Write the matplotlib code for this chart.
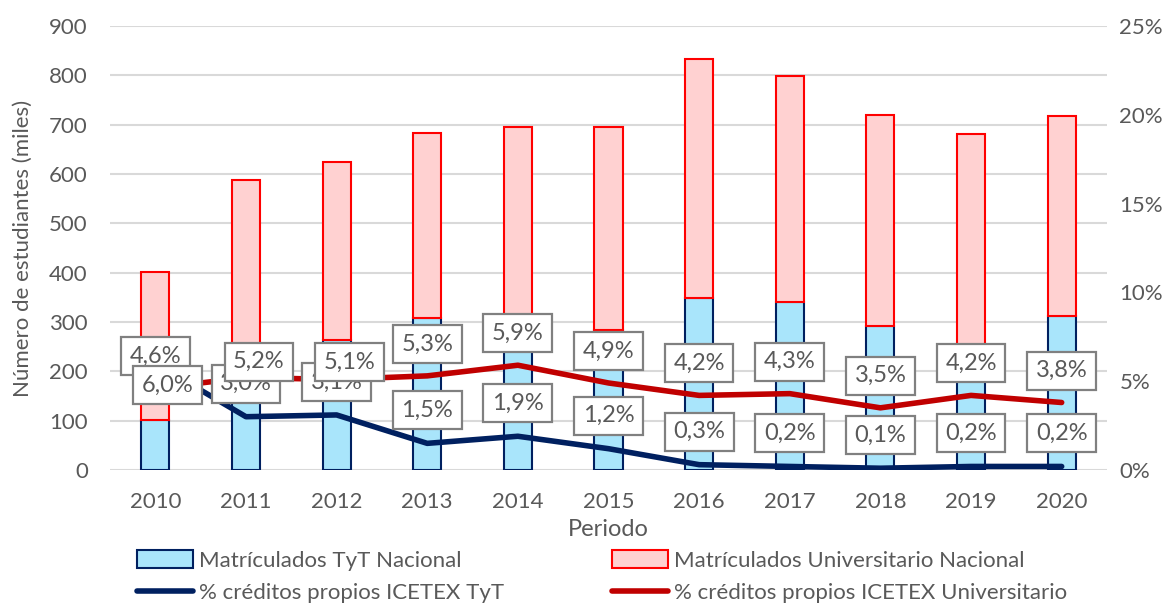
import matplotlib
matplotlib.use("Agg")
import matplotlib.pyplot as plt
from matplotlib.patches import Patch
from matplotlib.lines import Line2D
import numpy as np

plt.rcParams['font.family'] = ['Lato', 'DejaVu Sans']

years = ['2010', '2011', '2012', '2013', '2014', '2015', '2016', '2017', '2018', '2019', '2020']
tyt_students = [102, 250, 264, 308, 300, 284, 349, 340, 292, 250, 313]
uni_students = [299, 338, 361, 376, 395, 412, 485, 458, 428, 432, 405]
pct_tyt = [6.0, 3.0, 3.1, 1.5, 1.9, 1.2, 0.3, 0.2, 0.1, 0.2, 0.2]
pct_uni = [4.6, 5.2, 5.1, 5.3, 5.9, 4.9, 4.2, 4.3, 3.5, 4.2, 3.8]

TEXT = '#595959'
GRID = '#d9d9d9'
TYT_FILL, TYT_EDGE = '#a9e5fb', '#002060'
UNI_FILL, UNI_EDGE = '#ffd1d1', '#ff0000'
TYT_LINE, UNI_LINE = '#002060', '#c00000'
FS = 16

fig = plt.figure(figsize=(11.69, 6.04), dpi=100)
ax = fig.add_axes([110 / 1169, 134 / 604, 997 / 1169, 444 / 604])
x = np.arange(len(years))
w = 0.31

ax.bar(x, tyt_students, w, color=TYT_FILL, edgecolor=TYT_EDGE, linewidth=1.5, zorder=2)
ax.bar(x, uni_students, w, bottom=tyt_students, color=UNI_FILL, edgecolor=UNI_EDGE,
       linewidth=1.5, zorder=2)

ax.set_xlim(-0.5, len(years) - 0.5)
ax.set_ylim(0, 900)
ax.set_yticks(range(0, 901, 100))
ax.set_xticks(x)
ax.set_xticklabels(years)
ax.grid(axis='y', color=GRID, linewidth=1.5, zorder=0)
ax.set_axisbelow(True)
for s in ax.spines.values():
    s.set_visible(False)
ax.tick_params(axis='y', length=0, pad=16, labelsize=FS, labelcolor=TEXT)
ax.tick_params(axis='x', length=0, pad=16, labelsize=FS, labelcolor=TEXT)
ax.set_xlabel('Periodo', fontsize=FS + 1, color=TEXT, labelpad=5)
ax.set_ylabel('Número de estudiantes (miles)', fontsize=FS, color=TEXT, labelpad=12)

ax2 = ax.twinx()
ax2.set_ylim(0, 25)
ax2.set_yticks(range(0, 26, 5))
ax2.set_yticklabels([f'{v}%' for v in range(0, 26, 5)])
for s in ax2.spines.values():
    s.set_visible(False)
ax2.tick_params(axis='y', length=0, pad=9, labelsize=FS, labelcolor=TEXT)

ax2.plot(x, pct_tyt, color=TYT_LINE, linewidth=4, solid_capstyle='round',
         solid_joinstyle='round', zorder=3)
ax2.plot(x, pct_uni, color=UNI_LINE, linewidth=4, solid_capstyle='round',
         solid_joinstyle='round', zorder=3)

# label offsets in pixels (dx, dy)
uni_off = [(0, 32)] * len(years)
uni_off[1] = (13, 16)
uni_off[2] = (13, 17)
tyt_off = [(0, 33)] * len(years)
tyt_off[0] = (12, -22)

bbox = dict(boxstyle='square,pad=0.36', fc='white', ec='#808080', lw=1.6)
for i in range(len(years)):
    z = 7 if i == 0 else 5
    ax2.annotate(f'{pct_tyt[i]:.1f}%'.replace('.', ','), (x[i], pct_tyt[i]),
                 xytext=tyt_off[i], textcoords='offset pixels', ha='center', va='center',
                 fontsize=FS + 1, color=TEXT, bbox=bbox, zorder=z, annotation_clip=False)
    ax2.annotate(f'{pct_uni[i]:.1f}%'.replace('.', ','), (x[i], pct_uni[i]),
                 xytext=uni_off[i], textcoords='offset pixels', ha='center', va='center',
                 fontsize=FS + 1, color=TEXT, bbox=bbox, zorder=6, annotation_clip=False)

h_tyt_bar = Patch(facecolor=TYT_FILL, edgecolor=TYT_EDGE, linewidth=1.5)
h_uni_bar = Patch(facecolor=UNI_FILL, edgecolor=UNI_EDGE, linewidth=1.5)
h_tyt_line = Line2D([], [], color=TYT_LINE, linewidth=4, solid_capstyle='round')
h_uni_line = Line2D([], [], color=UNI_LINE, linewidth=4, solid_capstyle='round')

leg_kw = dict(loc='upper left', frameon=False, fontsize=FS, handlelength=2.5,
              handleheight=0.85, handletextpad=0.3, labelspacing=0.55, borderpad=0,
              borderaxespad=0, labelcolor=TEXT)
l1 = fig.legend([h_tyt_bar, h_tyt_line],
                ['Matrículados TyT Nacional', '% créditos propios ICETEX TyT'],
                bbox_to_anchor=(137 / 1169, 1 - 550 / 604), **leg_kw)
l2 = fig.legend([h_uni_bar, h_uni_line],
                ['Matrículados Universitario Nacional', '% créditos propios ICETEX Universitario'],
                bbox_to_anchor=(612 / 1169, 1 - 550 / 604), **leg_kw)

fig.savefig('out.png', dpi=100)
